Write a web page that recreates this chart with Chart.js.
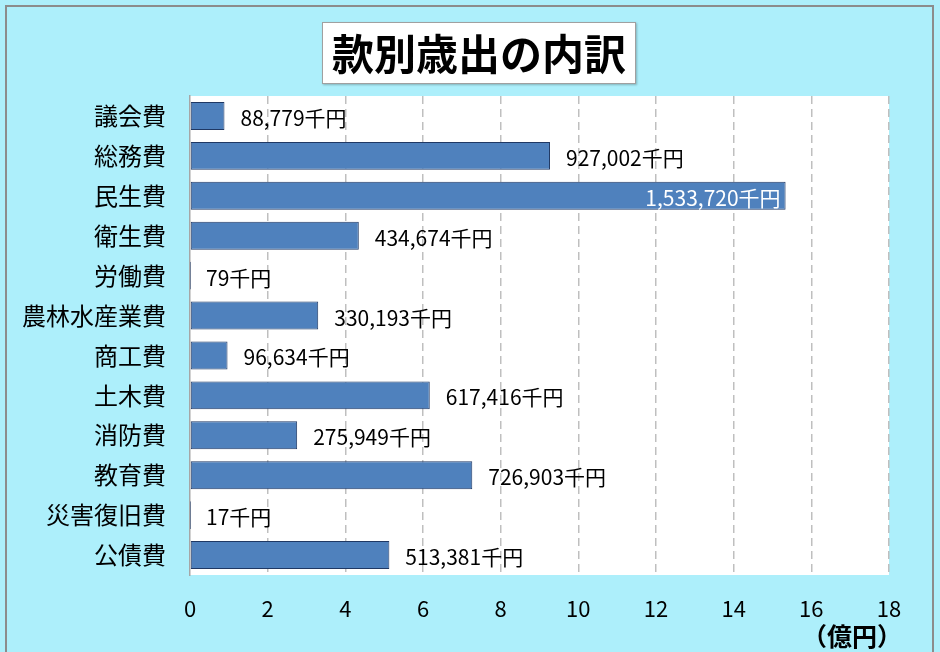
<!DOCTYPE html>
<html>
<head>
<meta charset="utf-8">
<script src="https://cdn.jsdelivr.net/npm/chart.js@4/dist/chart.umd.min.js"></script>
<style>
  body { margin: 0; background: #fff; }
  #wrap { position: relative; width: 940px; height: 652px; background: #adeffb; overflow: hidden; }
  #frame { position: absolute; left: 5px; top: 5px; width: 929px; height: 660px; border: 2px solid #8c8c8c; box-sizing: border-box; }
  #title { position: absolute; left: 322px; top: 22px; width: 314px; height: 62px; background: #fff;
    border: 1px solid #a0a0a0; box-shadow: 1px 1px 2px rgba(0,0,0,0.25); box-sizing: border-box;
    font: bold 42px "Noto Sans CJK JP", sans-serif; line-height: 58px; text-align: center; color: #000; }
  #unit { position: absolute; left: 802px; top: 617px; font: bold 25px "Noto Sans CJK JP", sans-serif; line-height: 36px; color: #000; }
  canvas { position: absolute; left: 0; top: 0; }
</style>
</head>
<body>
<div id="wrap">
  <canvas id="c" width="940" height="652"></canvas>
  <div id="frame"></div>
  <div id="title">款別歳出の内訳</div>
  <div id="unit">（億円）</div>
</div>
<script>
// 款別歳出 (千円)
const categories = ['議会費', '総務費', '民生費', '衛生費', '労働費', '農林水産業費', '商工費', '土木費', '消防費', '教育費', '災害復旧費', '公債費'];
const amounts = [88779, 927002, 1533720, 434674, 79, 330193, 96634, 617416, 275949, 726903, 17, 513381];
const xTicks = [0, 2, 4, 6, 8, 10, 12, 14, 16, 18];

// 千円 -> 億円
const okuValues = amounts.map(v => v / 100000);

const plotBg = {
  id: 'plotBg',
  beforeDraw(chart) {
    const a = chart.chartArea, ctx = chart.ctx;
    ctx.save();
    ctx.fillStyle = '#ffffff';
    ctx.fillRect(a.left, a.top, a.right - a.left, a.bottom - a.top);
    ctx.restore();
  }
};

const valueLabels = {
  id: 'valueLabels',
  afterDatasetsDraw(chart) {
    const ctx = chart.ctx, area = chart.chartArea;
    const meta = chart.getDatasetMeta(0);
    ctx.save();
    ctx.font = '21px "Noto Sans CJK JP", sans-serif';
    ctx.textBaseline = 'middle';
    meta.data.forEach((bar, i) => {
      const txt = amounts[i].toLocaleString('en-US') + '千円';
      const w = ctx.measureText(txt).width;
      if (bar.x + 16 + w > area.right) {
        ctx.fillStyle = '#ffffff';
        ctx.textAlign = 'right';
        ctx.fillText(txt, bar.x - 5, bar.y + 2);
      } else {
        ctx.fillStyle = '#000000';
        ctx.textAlign = 'left';
        ctx.fillText(txt, bar.x + 16, bar.y + 2);
      }
    });
    ctx.restore();
  }
};

new Chart(document.getElementById('c'), {
  type: 'bar',
  data: {
    labels: categories,
    datasets: [{
      data: okuValues,
      backgroundColor: '#4f81bd',
      borderColor: '#1f3864',
      borderWidth: 1,
      borderSkipped: false,
      barPercentage: 0.7,
      categoryPercentage: 1.0
    }]
  },
  options: {
    indexAxis: 'y',
    responsive: false,
    animation: false,
    layout: { padding: { left: 0, top: 96, right: 51, bottom: 0 } },
    plugins: { legend: { display: false }, tooltip: { enabled: false } },
    scales: {
      x: {
        min: 0, max: 18,
        afterBuildTicks(scale) { scale.ticks = xTicks.map(v => ({ value: v })); },
        afterFit(scale) { scale.height = 77; },
        grid: {
          drawTicks: false,
          color: c => c.tick && c.tick.value === 0 ? 'rgba(0,0,0,0)' : '#bfbfbf',
          lineWidth: 1.5
        },
        border: { display: false, dash: [8, 5] },
        ticks: { padding: 20, color: '#000', font: { size: 22, family: '"Noto Sans CJK JP", sans-serif' } }
      },
      y: {
        afterFit(scale) { scale.width = 190; },
        grid: { display: false },
        border: { display: true, color: '#a6a6a6', width: 1.5 },
        ticks: { padding: 16, color: '#000', font: { size: 24, family: '"Noto Sans CJK JP", sans-serif' } }
      }
    }
  },
  plugins: [plotBg, valueLabels]
});
</script>
</body>
</html>
